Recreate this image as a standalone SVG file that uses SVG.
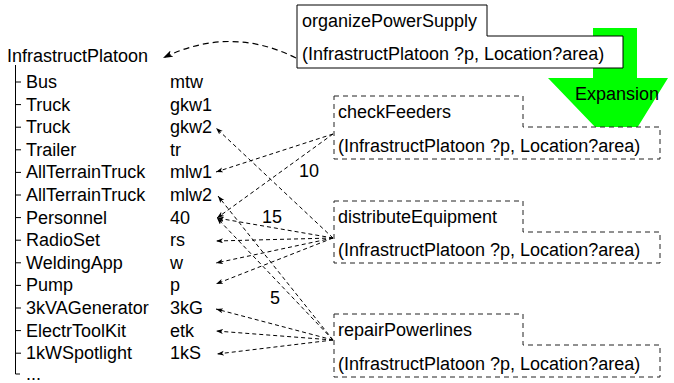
<svg xmlns="http://www.w3.org/2000/svg" width="674" height="383" viewBox="0 0 674 383">
  <style>
    text { font-family: "Liberation Sans", Arial, sans-serif; font-size: 18px; fill: #000; }
    .solidbox { fill: #fff; stroke: #000; stroke-width: 1; }
    .dashbox { fill: #fff; stroke: #222; stroke-width: 1; stroke-dasharray: 5 4; }
    .conn { fill: none; stroke: #000; stroke-width: 1; stroke-dasharray: 4 3; marker-end: url(#head); }
    .curve { fill: none; stroke: #000; stroke-width: 1.2; stroke-dasharray: 6 4; marker-end: url(#headLarge); }
    .tree { fill: none; stroke: #000; stroke-width: 1; }
  </style>
  <defs>
    <marker id="head" markerUnits="userSpaceOnUse" markerWidth="8" markerHeight="6" refX="7" refY="2.5" orient="auto">
      <path d="M0,0 L7,2.5 L0,5 L1.8,2.5 z" fill="#000"/>
    </marker>
    <marker id="headLarge" markerUnits="userSpaceOnUse" markerWidth="11" markerHeight="8" refX="10" refY="3.5" orient="auto">
      <path d="M0,0 L10,3.5 L0,7 L2.5,3.5 z" fill="#000"/>
    </marker>
  </defs>

  <!-- expansion arrow, drawn under the task boxes -->
  <g id="expansion">
    <polygon points="593,28 637,28 637,78 668,78 621,154 548,78 593,78" fill="#00ff00"/>
    <text x="575" y="100">Expansion</text>
  </g>

  <!-- platoon tree -->
  <g id="platoon">
    <text x="7" y="62">InfrastructPlatoon</text>
    <path class="tree" d="M15.5,65 V374 H20 M15.5,82 H21 M15.5,104.6 H21 M15.5,127.2 H21 M15.5,149.8 H21 M15.5,172.4 H21 M15.5,195 H21 M15.5,217.6 H21 M15.5,240.2 H21 M15.5,262.8 H21 M15.5,285.4 H21 M15.5,308 H21 M15.5,330.6 H21 M15.5,353.2 H21"/>
    <g>
      <text x="26" y="88">Bus</text><text x="170" y="88">mtw</text>
      <text x="26" y="110.6">Truck</text><text x="170" y="110.6">gkw1</text>
      <text x="26" y="133.2">Truck</text><text x="170" y="133.2">gkw2</text>
      <text x="26" y="155.8">Trailer</text><text x="170" y="155.8">tr</text>
      <text x="26" y="178.4">AllTerrainTruck</text><text x="170" y="178.4">mlw1</text>
      <text x="26" y="201">AllTerrainTruck</text><text x="170" y="201">mlw2</text>
      <text x="26" y="223.6">Personnel</text><text x="170" y="223.6">40</text>
      <text x="26" y="246.2">RadioSet</text><text x="170" y="246.2">rs</text>
      <text x="26" y="268.8">WeldingApp</text><text x="170" y="268.8">w</text>
      <text x="26" y="291.4">Pump</text><text x="170" y="291.4">p</text>
      <text x="26" y="314">3kVAGenerator</text><text x="170" y="314">3kG</text>
      <text x="26" y="336.6">ElectrToolKit</text><text x="170" y="336.6">etk</text>
      <text x="26" y="359.2">1kWSpotlight</text><text x="170" y="359.2">1kS</text>
      <text x="26" y="380">...</text>
    </g>
  </g>

  <!-- compound task -->
  <g id="organizePowerSupply">
    <path class="solidbox" d="M297,5 H487 V36 H623 V68 H297 Z"/>
    <text x="302" y="27">organizePowerSupply</text>
    <text x="302" y="60">(InfrastructPlatoon ?p, Location?area)</text>
  </g>

  <!-- subtasks -->
  <g id="checkFeeders">
    <path class="dashbox" d="M334,96 H523 V127 H660 V159 H334 Z"/>
    <text x="338" y="118">checkFeeders</text>
    <text x="338" y="152">(InfrastructPlatoon ?p, Location?area)</text>
  </g>
  <g id="distributeEquipment">
    <path class="dashbox" d="M334,201 H523 V232 H660 V263 H334 Z"/>
    <text x="338" y="223">distributeEquipment</text>
    <text x="338" y="256">(InfrastructPlatoon ?p, Location?area)</text>
  </g>
  <g id="repairPowerlines">
    <path class="dashbox" d="M334,314 H523 V345 H660 V377 H334 Z"/>
    <text x="338" y="336">repairPowerlines</text>
    <text x="338" y="370">(InfrastructPlatoon ?p, Location?area)</text>
  </g>

  <!-- resource bindings -->
  <g id="connectors">
    <path class="curve" d="M296,58 Q230,25 163,58"/>
    <!-- checkFeeders -->
    <line class="conn" x1="333" y1="134" x2="216" y2="172"/>
    <line class="conn" x1="333" y1="134" x2="217" y2="218"/>
    <!-- distributeEquipment -->
    <line class="conn" x1="333" y1="238" x2="216" y2="128"/>
    <line class="conn" x1="333" y1="238" x2="217" y2="218"/>
    <line class="conn" x1="333" y1="238" x2="216" y2="241"/>
    <line class="conn" x1="333" y1="238" x2="216" y2="263"/>
    <line class="conn" x1="333" y1="238" x2="216" y2="284"/>
    <!-- repairPowerlines -->
    <line class="conn" x1="333" y1="340" x2="218" y2="196"/>
    <line class="conn" x1="333" y1="340" x2="217" y2="218"/>
    <line class="conn" x1="333" y1="340" x2="216" y2="309"/>
    <line class="conn" x1="333" y1="340" x2="216" y2="331"/>
    <line class="conn" x1="333" y1="340" x2="217" y2="354"/>
    <text x="299" y="177">10</text>
    <text x="262" y="223">15</text>
    <text x="270" y="304">5</text>
  </g>
</svg>
